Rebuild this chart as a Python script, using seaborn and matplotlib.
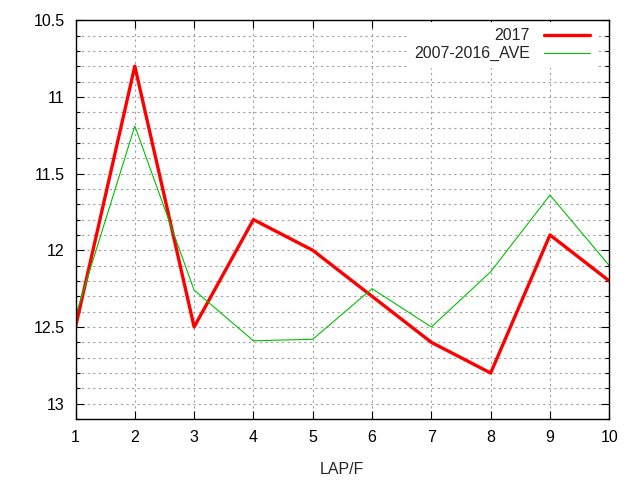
import numpy as np
import pandas as pd
import matplotlib
matplotlib.use("Agg")
import matplotlib.pyplot as plt
import seaborn as sns
from matplotlib.ticker import MultipleLocator

laps = [1, 2, 3, 4, 5, 6, 7, 8, 9, 10]
lap_2017 = [12.5, 10.8, 12.5, 11.8, 12.0, 12.3, 12.6, 12.8, 11.9, 12.2]
lap_ave = [12.43, 11.19, 12.26, 12.59, 12.58, 12.25, 12.5, 12.14, 11.64, 12.1]


sns.set_style("ticks")
plt.rcParams['font.family'] = ['Liberation Sans', 'DejaVu Sans']

fig = plt.figure(figsize=(6.4, 4.8), dpi=100)
ax = fig.add_axes([0.118, 0.127, 0.834, 0.831])

sns.lineplot(x=laps, y=lap_2017, ax=ax, color='#ff0000', linewidth=2.4, label='2017')
sns.lineplot(x=laps, y=lap_ave, ax=ax, color='#00c000', linewidth=0.8, label='2007-2016_AVE')

ax.set_xlim(1, 10)
ax.set_ylim(13.1, 10.5)
ax.xaxis.set_major_locator(MultipleLocator(1))
ax.yaxis.set_major_locator(MultipleLocator(0.5))
ax.yaxis.set_minor_locator(MultipleLocator(0.1))
ax.yaxis.set_major_formatter(plt.FuncFormatter(lambda v, p: f'{v:g}'))

ax.grid(True, which='both', axis='y', color='#a0a0a0', linestyle=(0, (2, 3)), linewidth=0.8)
ax.grid(True, which='major', axis='x', color='#a0a0a0', linestyle=(0, (2, 3)), linewidth=0.8)
ax.set_axisbelow(True)

ax.tick_params(which='both', direction='in', top=True, right=True, labelsize=11.5, colors='black')
ax.tick_params(which='major', length=6, width=0.8, pad=8)
ax.tick_params(which='minor', length=3, width=0.8)
for s in ax.spines.values():
    s.set_linewidth(1.0)
    s.set_color('black')

ax.set_xlabel('LAP/F', fontsize=11.5, labelpad=12)
ax.set_ylabel('')

leg = ax.legend(loc='upper right', markerfirst=False, frameon=True, fontsize=11.5,
                handlelength=2.85, borderaxespad=0.1, labelspacing=0.2, handletextpad=0.9,
                bbox_to_anchor=(0.978, 1.0), fancybox=False, framealpha=1)
leg.get_frame().set_facecolor('white')
leg.get_frame().set_linewidth(0)

fig.savefig('out.png', dpi=100)
